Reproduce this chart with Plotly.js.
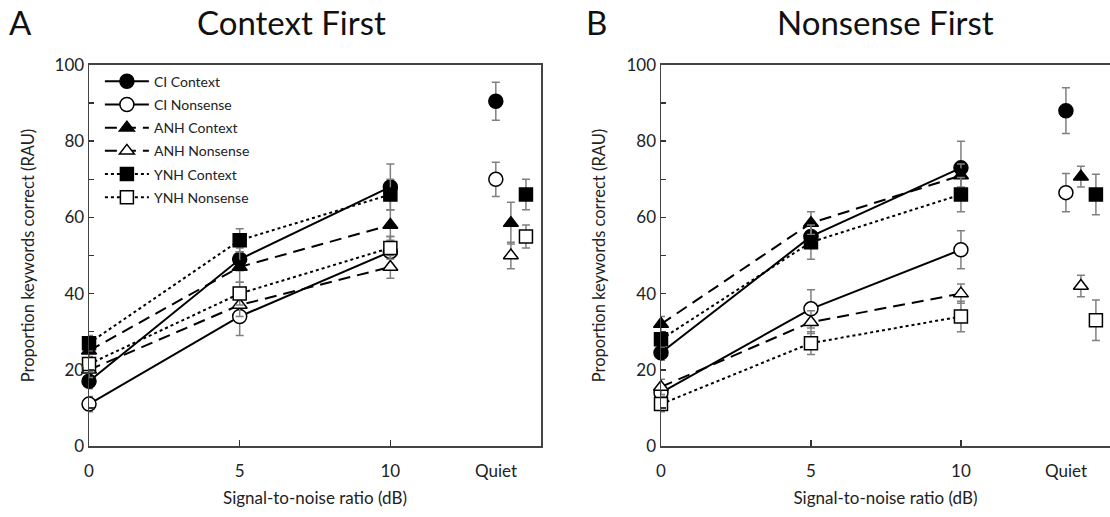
<!DOCTYPE html>
<html>
<head>
<meta charset="utf-8">
<script src="https://cdn.plot.ly/plotly-3.0.1.min.js"></script>
<style>
  html, body { margin: 0; padding: 0; background: #fff; }
  #chart { width: 1110px; height: 517px; }
</style>
</head>
<body>
<div id="chart"></div>
<script>
// Signal-to-noise conditions (dB) plus a separate "Quiet" condition
const snr = [0, 5, 10];
const xTickLabels = ['0', '5', '10'];
const quietLabel = 'Quiet';
const seriesNames = ['CI Context', 'CI Nonsense', 'ANH Context', 'ANH Nonsense', 'YNH Context', 'YNH Nonsense'];

// Panel A: Context First — scores at 0, 5, 10 dB, then Quiet
const ctxFirstCIContext    = [17, 49, 68, 90.5];
const ctxFirstCINonsense   = [11, 34, 51, 70];
const ctxFirstANHContext   = [25, 47, 58, 58.5];
const ctxFirstANHNonsense  = [20, 37, 47, 50];
const ctxFirstYNHContext   = [27, 54, 66, 66];
const ctxFirstYNHNonsense  = [21.5, 40, 52, 55];

const ctxFirstCIContextErr   = [2, 3, 6, 5];
const ctxFirstCINonsenseErr  = [2, 5, 4, 4.5];
const ctxFirstANHContextErr  = [2, 4, 4, 5.5];
const ctxFirstANHNonsenseErr = [2, 3, 3, 3.5];
const ctxFirstYNHContextErr  = [2, 3, 4, 4];
const ctxFirstYNHNonsenseErr = [2, 3, 3, 3];

// Panel B: Nonsense First
const nonFirstCIContext    = [24.5, 55, 73, 88];
const nonFirstCINonsense   = [14, 36, 51.5, 66.5];
const nonFirstANHContext   = [32, 58.5, 71, 70.7];
const nonFirstANHNonsense  = [15.5, 32.5, 40, 42];
const nonFirstYNHContext   = [28, 53.5, 66, 66];
const nonFirstYNHNonsense  = [11, 27, 34, 33];

const nonFirstCIContextErr   = [2, 3, 7, 6];
const nonFirstCINonsenseErr  = [2, 5, 5, 5];
const nonFirstANHContextErr  = [2, 3, 3, 2.7];
const nonFirstANHNonsenseErr = [2, 3, 2.5, 2.8];
const nonFirstYNHContextErr  = [2, 4.5, 4.5, 5.3];
const nonFirstYNHNonsenseErr = [2, 3, 4, 5.3];

// Quiet sits past the SNR axis; groups are staggered so markers don't overlap
const QUIET_X = 13.5;
const groupOffset = { CI: 0, ANH: 0.5, YNH: 1.0 };

const styles = {
  'CI Context':    { dash: 'solid', symbol: 'circle',      fill: '#000', size: 14, group: 'CI' },
  'CI Nonsense':   { dash: 'solid', symbol: 'circle',      fill: '#fff', size: 14, group: 'CI' },
  'ANH Context':   { dash: '12px,7px', symbol: 'triangle-up', fill: '#000', size: 13, group: 'ANH' },
  'ANH Nonsense':  { dash: '12px,7px', symbol: 'triangle-up', fill: '#fff', size: 13, group: 'ANH' },
  'YNH Context':   { dash: 'dot',   symbol: 'square',      fill: '#000', size: 13, group: 'YNH' },
  'YNH Nonsense':  { dash: 'dot',   symbol: 'square',      fill: '#fff', size: 13, group: 'YNH' }
};

const panelA = [
  [ctxFirstCIContext, ctxFirstCIContextErr],
  [ctxFirstCINonsense, ctxFirstCINonsenseErr],
  [ctxFirstANHContext, ctxFirstANHContextErr],
  [ctxFirstANHNonsense, ctxFirstANHNonsenseErr],
  [ctxFirstYNHContext, ctxFirstYNHContextErr],
  [ctxFirstYNHNonsense, ctxFirstYNHNonsenseErr]
];
const panelB = [
  [nonFirstCIContext, nonFirstCIContextErr],
  [nonFirstCINonsense, nonFirstCINonsenseErr],
  [nonFirstANHContext, nonFirstANHContextErr],
  [nonFirstANHNonsense, nonFirstANHNonsenseErr],
  [nonFirstYNHContext, nonFirstYNHContextErr],
  [nonFirstYNHNonsense, nonFirstYNHNonsenseErr]
];

function makeTraces(panel, xa, ya, legend) {
  return panel.map(([vals, errs], i) => {
    const name = seriesNames[i];
    const s = styles[name];
    // a null y breaks the line between the 10 dB point and the Quiet point
    const x = snr.concat([11.5, QUIET_X + groupOffset[s.group]]);
    const y = vals.slice(0, 3).concat([null, vals[3]]);
    const e = errs.slice(0, 3).concat([0, errs[3]]);
    return {
      type: 'scatter', mode: 'lines+markers', name: name,
      x: x, y: y,
      xaxis: xa, yaxis: ya, showlegend: legend, legendgroup: name,
      line: { color: '#000', width: 2, dash: s.dash },
      marker: { symbol: s.symbol, size: s.size, color: s.fill, line: { color: '#000', width: 1.5 } },
      error_y: { type: 'data', array: e, visible: true, color: '#808080', thickness: 1.5, width: 4 },
      cliponaxis: false
    };
  });
}

const traces = makeTraces(panelA, 'x', 'y', true).concat(makeTraces(panelB, 'x2', 'y2', false));

const font = 'Lato, "Open Sans", sans-serif';
const yTicks = [0, 10, 20, 30, 40, 50, 60, 70, 80, 90, 100];
const yTickText = yTicks.map(v => v % 20 === 0 ? String(v) : '');

function xAxis(domain, range, anchor) {
  return {
    domain: domain, range: range, anchor: anchor,
    tickvals: snr, ticktext: xTickLabels,
    ticks: 'inside', ticklen: 6, tickwidth: 1.5, tickcolor: '#333',
    ticklabelstandoff: 9,
    showline: true, linecolor: '#444', linewidth: 1.5, mirror: true,
    showgrid: false, zeroline: false,
    tickfont: { family: font, size: 17, color: '#222' },
    title: { text: 'Signal-to-noise ratio (dB)', font: { family: font, size: 17, color: '#222' }, standoff: 12 }
  };
}
function yAxis(anchor, mirror) {
  return {
    domain: [0.1373, 0.8743], range: [0, 100], anchor: anchor,
    tickvals: yTicks, ticktext: yTickText,
    ticks: 'inside', ticklen: 5, tickwidth: 1.5, tickcolor: '#333',
    showline: true, linecolor: '#444', linewidth: 1.5, mirror: mirror,
    showgrid: false, zeroline: false,
    tickfont: { family: font, size: 17, color: '#222' },
    title: { text: 'Proportion keywords correct (RAU)', font: { family: font, size: 16.5, color: '#222' }, standoff: 16 }
  };
}

const titleFont = { family: font, size: 33, color: '#111' };
const layout = {
  width: 1110, height: 517,
  margin: { l: 0, r: 0, t: 0, b: 0 },
  paper_bgcolor: '#fff', plot_bgcolor: '#fff',
  font: { family: font, color: '#222' },
  xaxis: xAxis([0.0802, 0.4874], [0, 15], 'y'),
  yaxis: yAxis('x', true),
  xaxis2: xAxis([0.5955, 1.0], [0, 14.97], 'y2'),
  yaxis2: yAxis('x2', false),
  legend: {
    x: 0.09, y: 0.873, xanchor: 'left', yanchor: 'top',
    bgcolor: 'rgba(0,0,0,0)', font: { family: font, size: 14, color: '#222' },
    itemwidth: 44, tracegroupgap: 2
  },
  annotations: [
    { text: quietLabel, xref: 'x', yref: 'paper', x: QUIET_X, xanchor: 'center', y: 0.1373, yshift: -12, yanchor: 'top', showarrow: false, font: { family: font, size: 17, color: '#222' } },
    { text: quietLabel, xref: 'x2', yref: 'paper', x: QUIET_X, xanchor: 'center', y: 0.1373, yshift: -12, yanchor: 'top', showarrow: false, font: { family: font, size: 17, color: '#222' } },
    { text: 'Context First', xref: 'paper', yref: 'paper', x: 291 / 1110, xanchor: 'center', y: 1 - 22 / 517, yanchor: 'middle', showarrow: false, font: titleFont },
    { text: 'Nonsense First', xref: 'paper', yref: 'paper', x: 885 / 1110, xanchor: 'center', y: 1 - 22 / 517, yanchor: 'middle', showarrow: false, font: titleFont },
    { text: 'A', xref: 'paper', yref: 'paper', x: 20 / 1110, xanchor: 'center', y: 1 - 22 / 517, yanchor: 'middle', showarrow: false, font: titleFont },
    { text: 'B', xref: 'paper', yref: 'paper', x: 597 / 1110, xanchor: 'center', y: 1 - 22 / 517, yanchor: 'middle', showarrow: false, font: titleFont }
  ]
};

Plotly.newPlot('chart', traces, layout, { displayModeBar: false, staticPlot: true });
</script>
</body>
</html>
